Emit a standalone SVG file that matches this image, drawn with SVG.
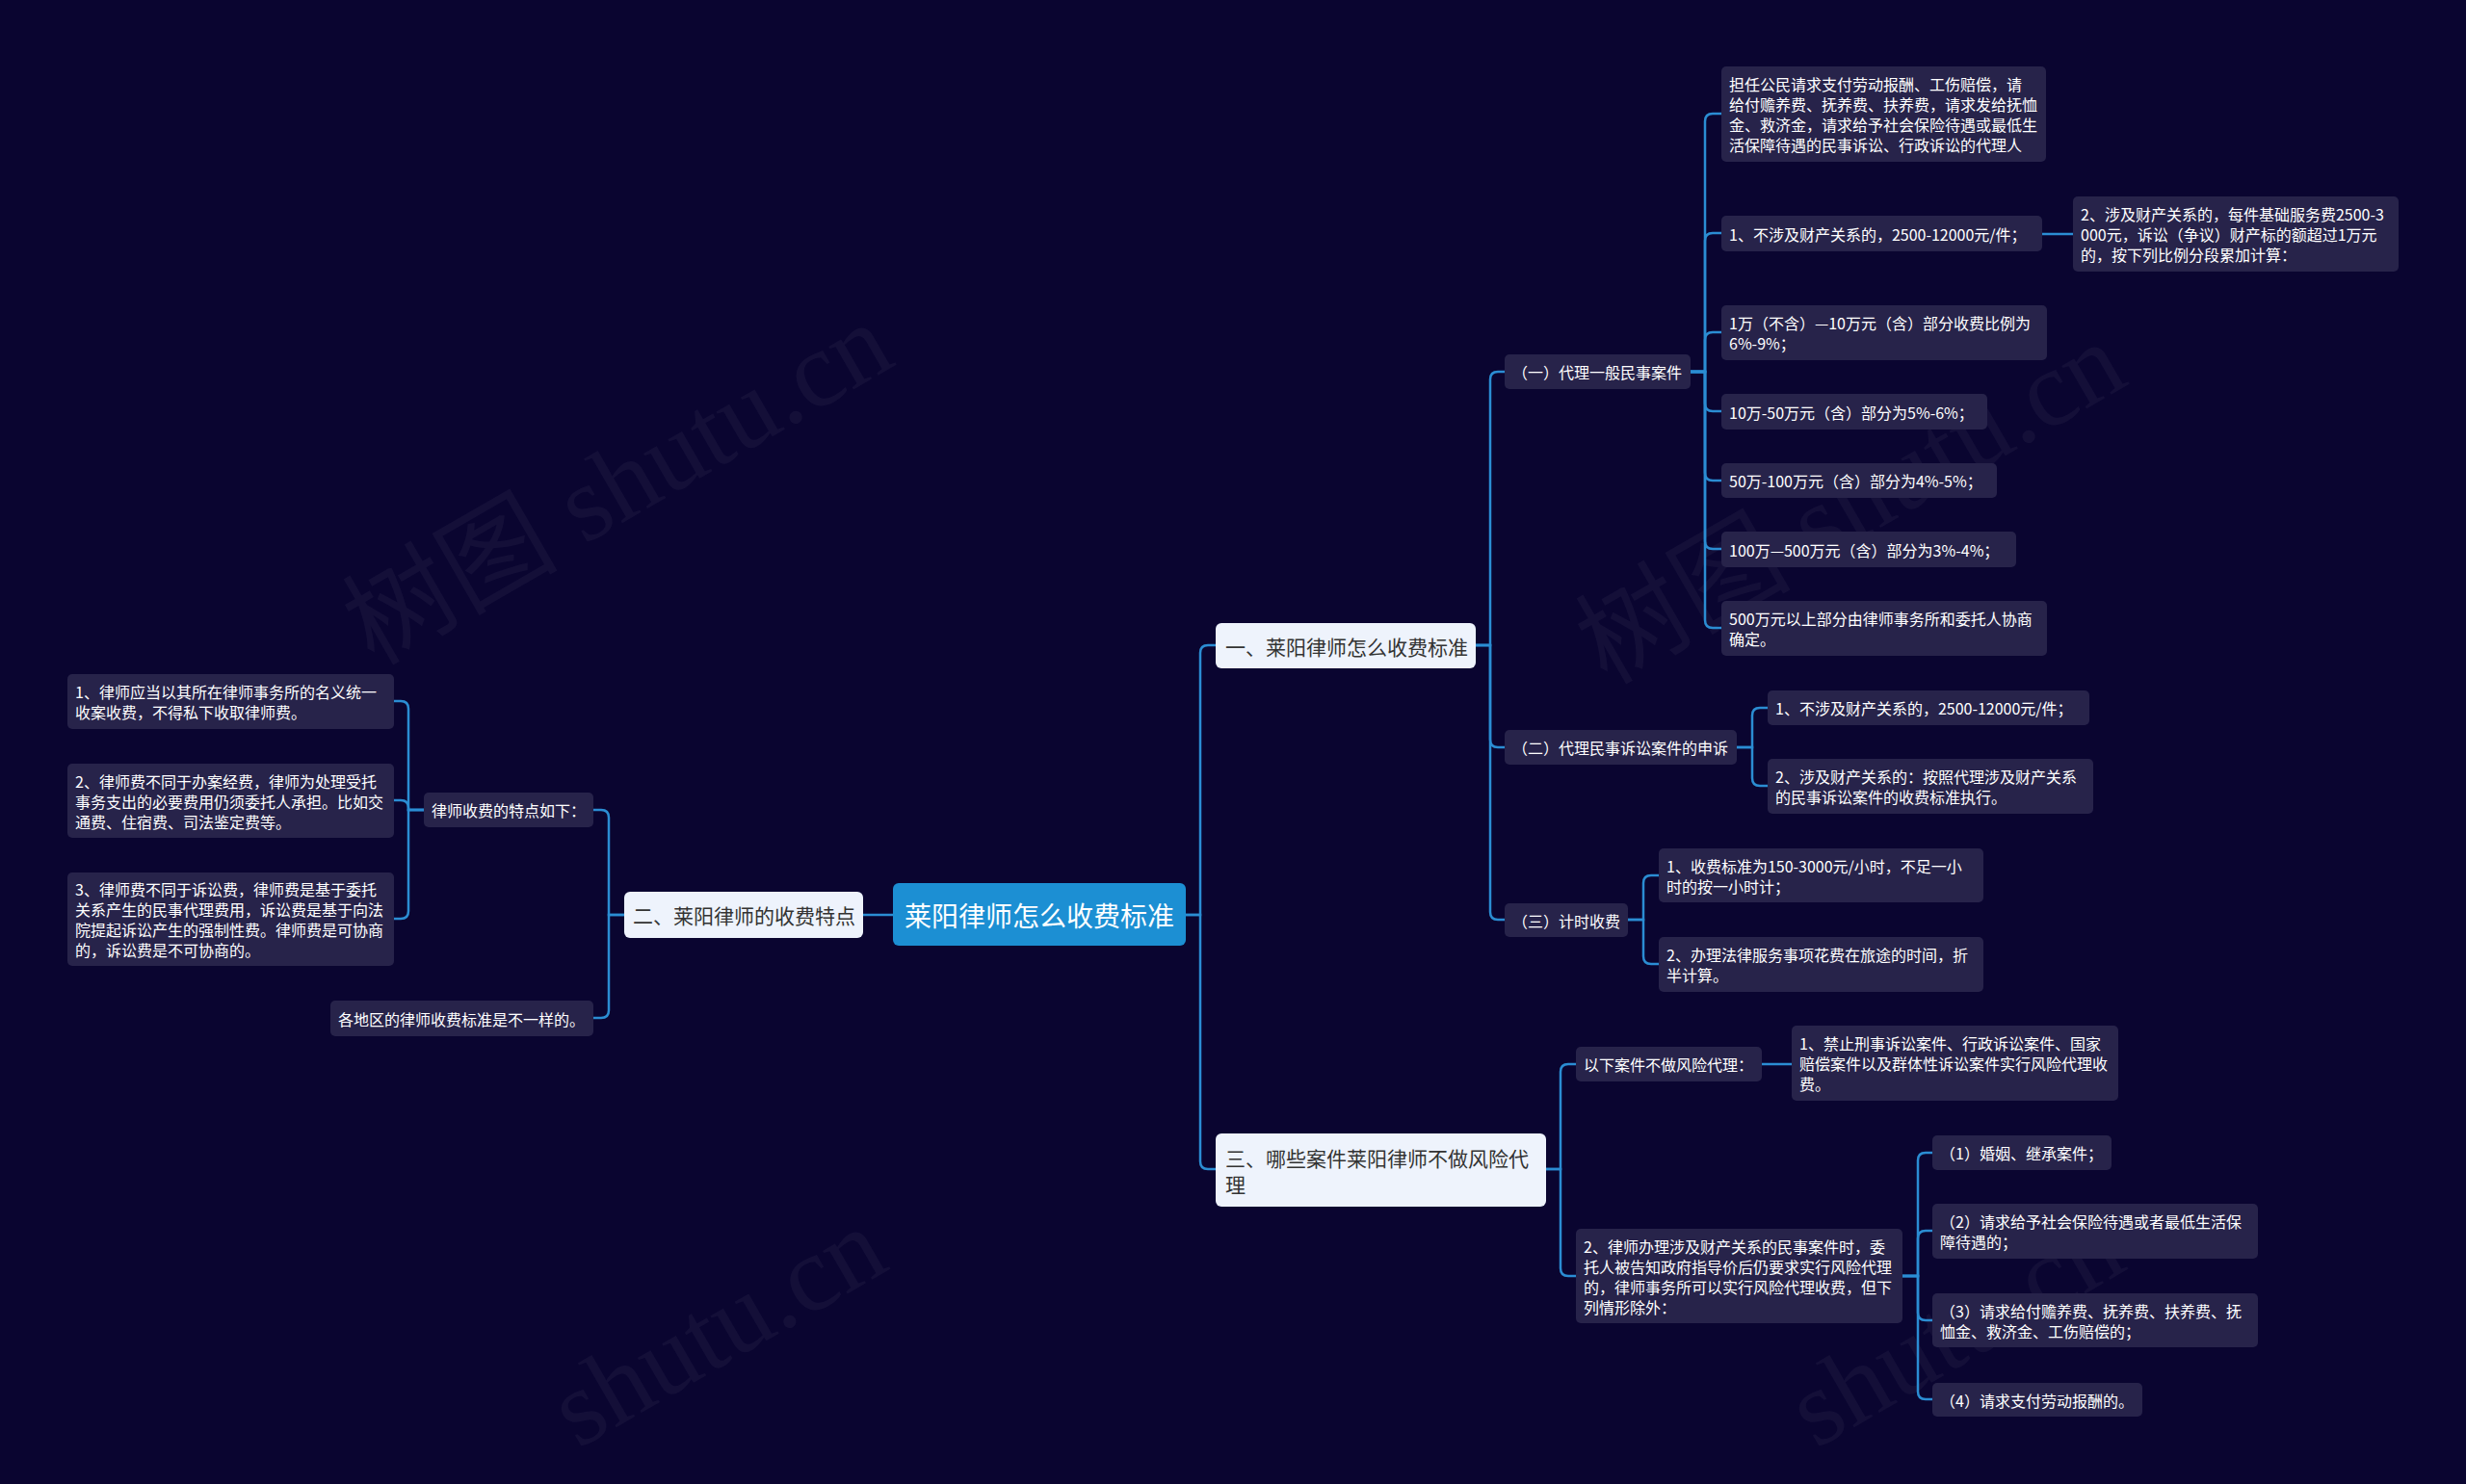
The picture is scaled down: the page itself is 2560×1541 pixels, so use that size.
<svg xmlns="http://www.w3.org/2000/svg" width="2560" height="1541" viewBox="0 0 2560 1541">
<style>
.bg{fill:#0a0530}
.wm{font-family:"Liberation Serif","Noto Sans CJK SC",serif;font-size:112px;fill:#ffffff;fill-opacity:0.045}
.c{fill:none;stroke:#2b8dd3;stroke-width:2.5;stroke-linecap:round}
.n rect{fill:#27234a}
.n text{font-family:"Noto Sans CJK SC","Noto Sans",sans-serif;font-size:16px;fill:#ffffff;dominant-baseline:central}
.l1 rect{fill:#eef3fc}
.l1 text{font-family:"Noto Sans CJK SC","Noto Sans",sans-serif;font-size:21px;fill:#333333;dominant-baseline:central}
.root rect{fill:#1c8fd3}
.root text{font-family:"Noto Sans CJK SC","Noto Sans",sans-serif;font-size:28px;fill:#ffffff;dominant-baseline:central;text-anchor:middle}
</style>
<rect class="bg" x="0" y="0" width="2560" height="1541"/>
<g id="watermarks">
<text class="wm" transform="translate(388,692) rotate(-30)">树图 shutu.cn</text>
<text class="wm" transform="translate(1668,712) rotate(-30)">树图 shutu.cn</text>
<text class="wm" transform="translate(600,1505) rotate(-30)">shutu.cn</text>
<text class="wm" transform="translate(1885,1505) rotate(-30)">shutu.cn</text>
</g>
<g id="connectors">
<path class="c" d="M927 950 H896"/>
<path class="c" d="M1231 950 H1246 V678 Q1246 670 1254 670 H1262"/>
<path class="c" d="M1231 950 H1246 V1206 Q1246 1214 1254 1214 H1262"/>
<path class="c" d="M1531 670 H1547 V394 Q1547 386 1555 386 H1562"/>
<path class="c" d="M1531 670 H1547 V768 Q1547 776 1555 776 H1562"/>
<path class="c" d="M1531 670 H1547 V947 Q1547 955 1555 955 H1562"/>
<path class="c" d="M1755 386 H1770 V126 Q1770 118 1778 118 H1787"/>
<path class="c" d="M1755 386 H1770 V250 Q1770 242 1778 242 H1787"/>
<path class="c" d="M1755 386 H1770 V353 Q1770 345 1778 345 H1787"/>
<path class="c" d="M1755 386 H1770 V419 Q1770 427 1778 427 H1787"/>
<path class="c" d="M1755 386 H1770 V491 Q1770 499 1778 499 H1787"/>
<path class="c" d="M1755 386 H1770 V562 Q1770 570 1778 570 H1787"/>
<path class="c" d="M1755 386 H1770 V644 Q1770 652 1778 652 H1787"/>
<path class="c" d="M2120 243 H2152"/>
<path class="c" d="M1803 776 H1819 V743 Q1819 735 1827 735 H1835"/>
<path class="c" d="M1803 776 H1819 V808 Q1819 816 1827 816 H1835"/>
<path class="c" d="M1690 955 H1706 V917 Q1706 909 1714 909 H1722"/>
<path class="c" d="M1690 955 H1706 V993 Q1706 1001 1714 1001 H1722"/>
<path class="c" d="M1605 1214 H1620 V1113 Q1620 1105 1628 1105 H1636"/>
<path class="c" d="M1605 1214 H1620 V1317 Q1620 1325 1628 1325 H1636"/>
<path class="c" d="M1829 1105 H1860"/>
<path class="c" d="M1975 1325 H1991 V1205 Q1991 1197 1999 1197 H2006"/>
<path class="c" d="M1975 1325 H1991 V1286 Q1991 1278 1999 1278 H2006"/>
<path class="c" d="M1975 1325 H1991 V1363 Q1991 1371 1999 1371 H2006"/>
<path class="c" d="M1975 1325 H1991 V1445 Q1991 1453 1999 1453 H2006"/>
<path class="c" d="M648 950 H632 V849 Q632 841 624 841 H616"/>
<path class="c" d="M648 950 H632 V1049 Q632 1057 624 1057 H616"/>
<path class="c" d="M440 841 H424 V736 Q424 728 416 728 H409"/>
<path class="c" d="M440 841 H424 V839 Q424 831 416 831 H409"/>
<path class="c" d="M440 841 H424 V946 Q424 954 416 954 H409"/>
</g>
<g id="root" class="root"><rect x="927" y="917" width="304" height="65" rx="6"/><text x="1079" y="950">莱阳律师怎么收费标准</text></g>
<g id="n-a" class="l1"><rect x="1262" y="647" width="270" height="47" rx="6"/><text x="1272" y="671">一、莱阳律师怎么收费标准</text></g>
<g id="n-b" class="l1"><rect x="648" y="926" width="248" height="48" rx="6"/><text x="657" y="950">二、莱阳律师的收费特点</text></g>
<g id="n-c" class="l1"><rect x="1262" y="1177" width="343" height="76" rx="6"/><text x="1272" y="1202">三、哪些案件莱阳律师不做风险代<tspan x="1272" y="1229">理</tspan></text></g>
<g id="n-a1" class="n"><rect x="1562" y="368" width="193" height="36" rx="5"/><text x="1570" y="386">（一）代理一般民事案件</text></g>
<g id="n-a2" class="n"><rect x="1562" y="758" width="241" height="36" rx="5"/><text x="1570" y="776">（二）代理民事诉讼案件的申诉</text></g>
<g id="n-a3" class="n"><rect x="1562" y="938" width="128" height="35" rx="5"/><text x="1570" y="955.5">（三）计时收费</text></g>
<g id="n-a1a" class="n"><rect x="1787" y="69" width="337" height="99" rx="5"/><text x="1795" y="87">担任公民请求支付劳动报酬、工伤赔偿，请<tspan x="1795" y="108">给付赡养费、抚养费、扶养费，请求发给抚恤</tspan><tspan x="1795" y="129">金、救济金，请求给予社会保险待遇或最低生</tspan><tspan x="1795" y="150">活保障待遇的民事诉讼、行政诉讼的代理人</tspan></text></g>
<g id="n-a1b" class="n"><rect x="1787" y="224" width="333" height="37" rx="5"/><text x="1795" y="242.5">1、不涉及财产关系的，2500-12000元/件；</text></g>
<g id="n-a1b1" class="n"><rect x="2152" y="204" width="338" height="78" rx="5"/><text x="2160" y="222">2、涉及财产关系的，每件基础服务费2500-3<tspan x="2160" y="243">000元，诉讼（争议）财产标的额超过1万元</tspan><tspan x="2160" y="264">的，按下列比例分段累加计算：</tspan></text></g>
<g id="n-a1c" class="n"><rect x="1787" y="317" width="338" height="57" rx="5"/><text x="1795" y="335">1万（不含）—10万元（含）部分收费比例为<tspan x="1795" y="356">6%-9%；</tspan></text></g>
<g id="n-a1d" class="n"><rect x="1787" y="409" width="276" height="37" rx="5"/><text x="1795" y="427.5">10万-50万元（含）部分为5%-6%；</text></g>
<g id="n-a1e" class="n"><rect x="1787" y="481" width="286" height="36" rx="5"/><text x="1795" y="499">50万-100万元（含）部分为4%-5%；</text></g>
<g id="n-a1f" class="n"><rect x="1787" y="552" width="306" height="37" rx="5"/><text x="1795" y="570.5">100万—500万元（含）部分为3%-4%；</text></g>
<g id="n-a1g" class="n"><rect x="1787" y="624" width="338" height="57" rx="5"/><text x="1795" y="642">500万元以上部分由律师事务所和委托人协商<tspan x="1795" y="663">确定。</tspan></text></g>
<g id="n-a2a" class="n"><rect x="1835" y="717" width="334" height="36" rx="5"/><text x="1843" y="735">1、不涉及财产关系的，2500-12000元/件；</text></g>
<g id="n-a2b" class="n"><rect x="1835" y="788" width="338" height="57" rx="5"/><text x="1843" y="806">2、涉及财产关系的：按照代理涉及财产关系<tspan x="1843" y="827">的民事诉讼案件的收费标准执行。</tspan></text></g>
<g id="n-a3a" class="n"><rect x="1722" y="881" width="337" height="56" rx="5"/><text x="1730" y="898.5">1、收费标准为150-3000元/小时，不足一小<tspan x="1730" y="919.5">时的按一小时计；</tspan></text></g>
<g id="n-a3b" class="n"><rect x="1722" y="973" width="337" height="57" rx="5"/><text x="1730" y="991">2、办理法律服务事项花费在旅途的时间，折<tspan x="1730" y="1012">半计算。</tspan></text></g>
<g id="n-c1" class="n"><rect x="1636" y="1087" width="193" height="36" rx="5"/><text x="1644" y="1105">以下案件不做风险代理：</text></g>
<g id="n-c1a" class="n"><rect x="1860" y="1065" width="339" height="78" rx="5"/><text x="1868" y="1083">1、禁止刑事诉讼案件、行政诉讼案件、国家<tspan x="1868" y="1104">赔偿案件以及群体性诉讼案件实行风险代理收</tspan><tspan x="1868" y="1125">费。</tspan></text></g>
<g id="n-c2" class="n"><rect x="1636" y="1276" width="339" height="98" rx="5"/><text x="1644" y="1293.5">2、律师办理涉及财产关系的民事案件时，委<tspan x="1644" y="1314.5">托人被告知政府指导价后仍要求实行风险代理</tspan><tspan x="1644" y="1335.5">的，律师事务所可以实行风险代理收费，但下</tspan><tspan x="1644" y="1356.5">列情形除外：</tspan></text></g>
<g id="n-c2a" class="n"><rect x="2006" y="1179" width="186" height="36" rx="5"/><text x="2014" y="1197">（1）婚姻、继承案件；</text></g>
<g id="n-c2b" class="n"><rect x="2006" y="1250" width="338" height="57" rx="5"/><text x="2014" y="1268">（2）请求给予社会保险待遇或者最低生活保<tspan x="2014" y="1289">障待遇的；</tspan></text></g>
<g id="n-c2c" class="n"><rect x="2006" y="1343" width="338" height="56" rx="5"/><text x="2014" y="1360.5">（3）请求给付赡养费、抚养费、扶养费、抚<tspan x="2014" y="1381.5">恤金、救济金、工伤赔偿的；</tspan></text></g>
<g id="n-c2d" class="n"><rect x="2006" y="1436" width="218" height="35" rx="5"/><text x="2014" y="1453.5">（4）请求支付劳动报酬的。</text></g>
<g id="n-b1" class="n"><rect x="440" y="823" width="176" height="36" rx="5"/><text x="448" y="841">律师收费的特点如下：</text></g>
<g id="n-b1a" class="n"><rect x="70" y="700" width="339" height="57" rx="5"/><text x="78" y="718">1、律师应当以其所在律师事务所的名义统一<tspan x="78" y="739">收案收费，不得私下收取律师费。</tspan></text></g>
<g id="n-b1b" class="n"><rect x="70" y="793" width="339" height="77" rx="5"/><text x="78" y="810.5">2、律师费不同于办案经费，律师为处理受托<tspan x="78" y="831.5">事务支出的必要费用仍须委托人承担。比如交</tspan><tspan x="78" y="852.5">通费、住宿费、司法鉴定费等。</tspan></text></g>
<g id="n-b1c" class="n"><rect x="70" y="906" width="339" height="97" rx="5"/><text x="78" y="923">3、律师费不同于诉讼费，律师费是基于委托<tspan x="78" y="944">关系产生的民事代理费用，诉讼费是基于向法</tspan><tspan x="78" y="965">院提起诉讼产生的强制性费。律师费是可协商</tspan><tspan x="78" y="986">的，诉讼费是不可协商的。</tspan></text></g>
<g id="n-b2" class="n"><rect x="343" y="1039" width="273" height="37" rx="5"/><text x="351" y="1057.5">各地区的律师收费标准是不一样的。</text></g>
</svg>
